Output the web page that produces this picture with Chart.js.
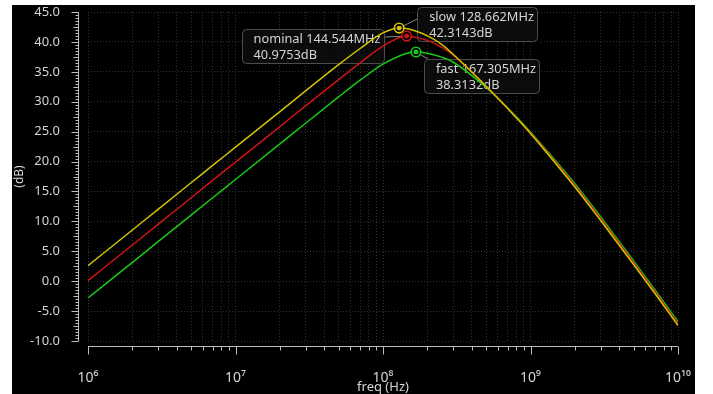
<!DOCTYPE html>
<html><head><meta charset="utf-8">
<script src="https://cdn.jsdelivr.net/npm/chart.js@4.4.0/dist/chart.umd.min.js"></script>
<style>
html,body{margin:0;padding:0;background:#fff;width:713px;height:394px;overflow:hidden}
#wrap{position:absolute;left:12px;top:5px;width:683px;height:389px;background:#000}
canvas{display:block}
</style></head><body>
<div id="wrap"><canvas id="c" width="683" height="389"></canvas></div>
<script>
// ---- data ----
const seriesNames = ['slow', 'nominal', 'fast'];
const freqHz = [1e6, 2e6, 3e6, 5e6, 7e6, 1e7, 2e7, 3e7, 5e7, 7e7, 1e8, 1.5e8, 2e8, 2.5e8, 3e8, 5e8, 7e8, 1e9, 1.5e9, 2e9, 3e9, 5e9, 7e9, 1e10];
const slowDb    = [2.6, 8.55, 12.05, 16.45, 19.35, 22.4, 28.35, 31.85, 36.2, 38.9, 41.5, 42.15, 41.0, 39.6, 37.9, 32.6, 28.85, 24.7, 19.5, 15.75, 10.1, 2.8, -2.1, -7.4];
const nominalDb = [0.1, 6.05, 9.55, 13.95, 16.85, 19.9, 25.85, 29.35, 33.7, 36.5, 39.3, 40.96, 40.25, 39.1, 37.8, 32.6, 28.9, 24.8, 19.7, 16.0, 10.4, 3.1, -1.8, -7.1];
const fastDb    = [-2.8, 3.15, 6.65, 11.05, 13.95, 17.0, 22.95, 26.45, 30.8, 33.6, 36.3, 38.2, 38.1, 37.45, 36.6, 32.4, 29.0, 24.95, 19.95, 16.3, 10.7, 3.4, -1.5, -6.8];
const peakFreqHz = [128.662e6, 144.544e6, 167.305e6];
const peakDb = [42.3143, 40.9753, 38.3132];
const yTicks = [-10, -5, 0, 5, 10, 15, 20, 25, 30, 35, 40, 45];
const xDecades = [1e6, 1e7, 1e8, 1e9, 1e10];
const xTickLabels = ['10\u2076', '10\u2077', '10\u2078', '10\u2079', '10\u00b9\u2070'];

// ---- styling ----
const colors = ['#d2c400', '#d01414', '#18c818'];
const FONT = '"Noto Sans", "Open Sans", sans-serif';
const textColor = '#d4d4d4';

const allDb = [slowDb, nominalDb, fastDb];
function buildPoints(i) {
  const pts = freqHz.map((f, k) => ({x: f, y: allDb[i][k]}));
  pts.push({x: peakFreqHz[i], y: peakDb[i], peak: true});
  pts.sort((a, b) => a.x - b.x);
  return pts;
}

// label boxes: placement relative to the peak marker (pixels)
const boxPlace = [
  {dx: 18, dy: -21, side: 'right', link: [0, 12]},
  {dx: -23, dy: -7, side: 'left', link: [0, 8]},
  {dx: 8, dy: 7, side: 'right', link: [4, 0]}
];

function peakPixel(chart, i) {
  const meta = chart.getDatasetMeta(i);
  const ds = chart.data.datasets[i];
  const idx = ds.data.findIndex(p => p.peak);
  const el = meta.data[idx];
  return {x: el.x, y: el.y};
}

const boxPlugin = {
  id: 'peakBoxes',
  beforeDatasetsDraw(chart) {
    const ctx = chart.ctx;
    ctx.save();
    ctx.font = '12.8px ' + FONT;
    for (let i = 0; i < 3; i++) {
      const p = peakPixel(chart, i);
      const l1 = seriesNames[i] + ' ' + (peakFreqHz[i] / 1e6).toFixed(3) + 'MHz';
      const l2 = peakDb[i].toFixed(4) + 'dB';
      const w = Math.max(ctx.measureText(l1).width, ctx.measureText(l2).width) + 15;
      const h = 34;
      const pl = boxPlace[i];
      const bx = pl.side === 'right' ? p.x + pl.dx : p.x + pl.dx - w;
      const by = p.y + pl.dy;
      ctx.strokeStyle = '#8a8a8a';
      ctx.lineWidth = 1;
      ctx.beginPath();
      ctx.moveTo(p.x, p.y);
      const ex = pl.side === 'right' ? bx + pl.link[0] : bx + w - pl.link[0];
      ctx.lineTo(ex, by + pl.link[1]);
      ctx.stroke();
      ctx.fillStyle = 'rgba(12,12,12,0.92)';
      ctx.strokeStyle = '#4c4c4c';
      ctx.beginPath();
      ctx.roundRect(Math.round(bx) + 0.5, Math.round(by) + 0.5, Math.round(w), h, 4);
      ctx.fill();
      ctx.stroke();
      ctx.fillStyle = textColor;
      ctx.textBaseline = 'middle';
      ctx.textAlign = 'left';
      ctx.fillText(l1, bx + 12, by + 10);
      ctx.fillText(l2, bx + 12, by + 26);
    }
    ctx.restore();
  },
  afterDatasetsDraw(chart) {
    const ctx = chart.ctx;
    ctx.save();
    for (let i = 0; i < 3; i++) {
      const p = peakPixel(chart, i);
      ctx.strokeStyle = colors[i];
      ctx.lineWidth = 1.6;
      ctx.fillStyle = 'rgba(0,0,0,0.6)';
      ctx.beginPath(); ctx.arc(p.x, p.y, 4.8, 0, Math.PI * 2); ctx.fill(); ctx.stroke();
      ctx.fillStyle = colors[i];
      ctx.beginPath(); ctx.arc(p.x, p.y, 2.4, 0, Math.PI * 2); ctx.fill();
    }
    ctx.restore();
  }
};

const axisPlugin = {
  id: 'axisMarks',
  afterDraw(chart) {
    const {ctx, chartArea: a, scales: {x, y}} = chart;
    ctx.save();
    ctx.strokeStyle = '#bcbcbc';
    ctx.lineWidth = 1;
    ctx.beginPath();
    const ax = Math.round(a.left - 10) + 0.5;
    ctx.moveTo(ax, y.getPixelForValue(yTicks[yTicks.length - 1]));
    ctx.lineTo(ax, y.getPixelForValue(yTicks[0]));
    for (let v = yTicks[0]; v <= yTicks[yTicks.length - 1] + 1e-9; v += 0.5) {
      const py = Math.round(y.getPixelForValue(v)) + 0.5;
      const len = (Math.abs(v % 5) < 1e-9) ? 7 : (Math.abs(v % 2.5) < 1e-9 ? 5 : 3);
      ctx.moveTo(ax, py); ctx.lineTo(ax - len, py);
    }
    const ay = Math.round(a.bottom + 5) + 0.5;
    ctx.moveTo(x.getPixelForValue(xDecades[0]), ay);
    ctx.lineTo(x.getPixelForValue(xDecades[xDecades.length - 1]), ay);
    x.ticks.forEach(t => {
      const px = Math.round(x.getPixelForValue(t.value)) + 0.5;
      const major = xDecades.includes(t.value);
      ctx.moveTo(px, ay); ctx.lineTo(px, ay + (major ? 8 : 4));
    });
    ctx.stroke();
    ctx.restore();
  }
};

function draw() {
  new Chart(document.getElementById('c'), {
    type: 'line',
    data: {
      datasets: [0, 1, 2].map(i => ({
        label: seriesNames[i],
        data: buildPoints(i),
        borderColor: colors[i],
        borderWidth: 1.5,
        pointRadius: 0,
        cubicInterpolationMode: 'monotone',
        fill: false
      }))
    },
    options: {
      responsive: false,
      animation: false,
      devicePixelRatio: 1,
      layout: {padding: {top: 7, right: 17, left: 0, bottom: 0}},
      plugins: {legend: {display: false}, tooltip: {enabled: false}},
      scales: {
        x: {
          type: 'logarithmic',
          min: xDecades[0],
          max: xDecades[xDecades.length - 1],
          afterBuildTicks(s) {
            const t = [];
            xDecades.forEach((d, i) => {
              t.push({value: d});
              if (i < xDecades.length - 1) for (let m = 2; m <= 9; m++) t.push({value: d * m});
            });
            s.ticks = t;
          },
          afterFit(s) { s.height = 53; s.paddingLeft = 0; s.paddingRight = 0; s.paddingTop = 0; s.paddingBottom = 0; },
          grid: {color: '#323232', drawTicks: false, lineWidth: 1},
          border: {display: false, dash: [1, 2]},
          ticks: {
            autoSkip: false, maxRotation: 0, minRotation: 0,
            padding: 29,
            color: textColor,
            font: {family: FONT, size: 14},
            callback(v) { const i = xDecades.indexOf(v); return i >= 0 ? xTickLabels[i] : ''; }
          },
          title: {display: true, text: 'freq (Hz)', color: textColor, font: {family: FONT, size: 13, lineHeight: 1}, padding: {top: 0, bottom: 0}}
        },
        y: {
          min: yTicks[0],
          max: yTicks[yTicks.length - 1],
          afterBuildTicks(s) { s.ticks = yTicks.map(v => ({value: v})); },
          afterFit(s) { s.width = 76; s.paddingLeft = 0; s.paddingRight = 0; s.paddingTop = 0; s.paddingBottom = 0; },
          grid: {color: '#323232', drawTicks: false, lineWidth: 1},
          border: {display: false, dash: [1, 2]},
          ticks: {
            padding: 28,
            color: textColor,
            font: {family: FONT, size: 13},
            callback(v) { return Number(v).toFixed(1); }
          },
          title: {display: true, text: '(dB)', color: textColor, font: {family: FONT, size: 12, lineHeight: 1}, padding: {top: 2, bottom: 0}}
        }
      }
    },
    plugins: [boxPlugin, axisPlugin]
  });
}
if (document.fonts && document.fonts.load) {
  document.fonts.load('13px "Noto Sans"').then(draw, draw);
} else { draw(); }
</script>
</body></html>
